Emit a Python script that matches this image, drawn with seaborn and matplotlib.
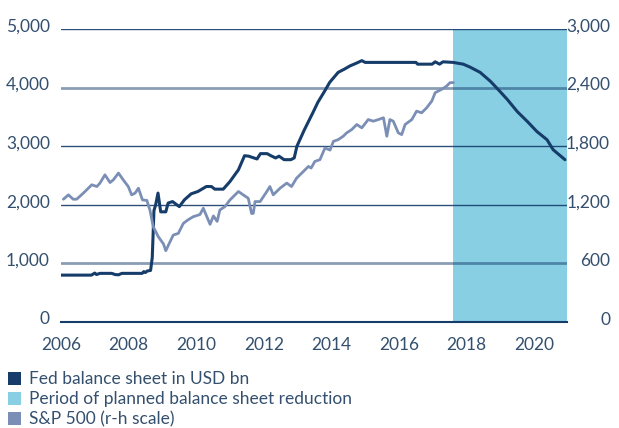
import matplotlib
matplotlib.use("Agg")
import matplotlib.pyplot as plt
import matplotlib.transforms as mtransforms
from matplotlib.patches import Patch
import numpy as np
import pandas as pd
import seaborn as sns

# Fed balance sheet, USD bn (decimal year, value)
fed_year = [2006.0, 2006.5, 2006.9, 2007.0, 2007.05, 2007.15, 2007.5, 2007.6, 2007.7, 2007.8,
            2008.0, 2008.4, 2008.45, 2008.5, 2008.55, 2008.65, 2008.7, 2008.75, 2008.8, 2008.87,
            2008.95, 2009.1, 2009.17, 2009.3, 2009.5, 2009.65, 2009.85, 2010.05, 2010.3, 2010.45,
            2010.55, 2010.8, 2011.0, 2011.25, 2011.43, 2011.55, 2011.8, 2011.9, 2012.1, 2012.2,
            2012.35, 2012.45, 2012.6, 2012.8, 2012.9, 2012.98, 2013.2, 2013.45, 2013.6, 2013.8,
            2013.95, 2014.2, 2014.4, 2014.55, 2014.75, 2014.9, 2015.0, 2015.5, 2016.0, 2016.5,
            2016.55, 2016.98, 2017.07, 2017.2, 2017.3, 2017.6, 2017.9, 2018.1, 2018.4, 2018.7,
            2018.93, 2019.2, 2019.5, 2019.8, 2020.08, 2020.38, 2020.56, 2020.91]
fed_value = [800, 800, 800, 835, 810, 830, 830, 810, 805, 830,
             830, 830, 860, 845, 870, 880, 1100, 1900, 2000, 2200,
             1880, 1880, 2030, 2055, 1969, 2084, 2187, 2227, 2312, 2312,
             2267, 2267, 2398, 2598, 2838, 2830, 2782, 2873, 2873, 2840,
             2799, 2830, 2770, 2770, 2800, 3000, 3280, 3570, 3750, 3940,
             4090, 4260, 4320, 4370, 4420, 4460, 4430, 4430, 4430, 4430,
             4400, 4400, 4440, 4400, 4440, 4430, 4400, 4350, 4260, 4110,
             3970, 3800, 3590, 3420, 3250, 3110, 2940, 2770]

# S&P 500 index level (decimal year, value)
spx_year = [2006.07, 2006.22, 2006.36, 2006.46, 2006.66, 2006.91, 2007.06, 2007.15, 2007.3, 2007.45,
            2007.55, 2007.7, 2007.84, 2007.99, 2008.09, 2008.19, 2008.29, 2008.41, 2008.54, 2008.63,
            2008.73, 2008.88, 2009.03, 2009.1, 2009.32, 2009.47, 2009.62, 2009.75, 2009.91, 2010.11,
            2010.21, 2010.41, 2010.51, 2010.62, 2010.7, 2010.85, 2011.0, 2011.15, 2011.25, 2011.39,
            2011.54, 2011.64, 2011.69, 2011.74, 2011.89, 2012.09, 2012.18, 2012.28, 2012.48, 2012.68,
            2012.82, 2012.97, 2013.17, 2013.32, 2013.4, 2013.51, 2013.66, 2013.81, 2013.96, 2014.06,
            2014.2, 2014.35, 2014.45, 2014.6, 2014.75, 2014.9, 2015.09, 2015.24, 2015.39, 2015.54,
            2015.64, 2015.73, 2015.83, 2015.98, 2016.08, 2016.18, 2016.38, 2016.52, 2016.67, 2016.82,
            2016.97, 2017.07, 2017.26, 2017.41, 2017.51, 2017.61]
spx_value = [1257, 1302, 1257, 1257, 1319, 1405, 1387, 1421, 1507, 1428,
             1456, 1525, 1456, 1387, 1302, 1319, 1370, 1250, 1245, 1147,
             975, 873, 800, 730, 890, 907, 1010, 1044, 1078, 1100,
             1165, 1000, 1086, 1030, 1147, 1182, 1250, 1302, 1336, 1302,
             1267, 1110, 1113, 1233, 1233, 1336, 1387, 1302, 1370, 1422,
             1387, 1473, 1541, 1593, 1576, 1644, 1662, 1782, 1760, 1850,
             1867, 1902, 1936, 1970, 2022, 1988, 2073, 2056, 2073, 2091,
             1902, 2073, 2056, 1936, 1919, 2022, 2073, 2159, 2142, 2194,
             2262, 2348, 2382, 2416, 2451, 2451]

reduction_start = 2017.6
x_end = 2020.97
left_ticks = [0, 1000, 2000, 3000, 4000, 5000]
right_ticks = [0, 600, 1200, 1800, 2400, 3000]
year_ticks = [2006, 2008, 2010, 2012, 2014, 2016, 2018, 2020]
legend_labels = ["Fed balance sheet in USD bn",
                 "Period of planned balance sheet reduction",
                 "S&P 500 (r-h scale)"]

navy = "#163c6a"
spx_col = "#7b8fb6"
shade = "#88cfe4"
text_col = "#34506e"

sns.set_style("white")
plt.rcParams["font.family"] = ["Lato", "DejaVu Sans"]

fed = pd.DataFrame({"year": fed_year, "value": fed_value})
spx = pd.DataFrame({"year": spx_year, "value": spx_value})

fig = plt.figure(figsize=(6.19, 4.28), dpi=100)
ax = fig.add_axes([61 / 619, 1 - 322 / 428, (567 - 61) / 619, (322 - 29) / 428])
ax2 = ax.twinx()

ax.axvspan(reduction_start, x_end, color=shade, zorder=0, lw=0)
sns.lineplot(data=fed, x="year", y="value", ax=ax, color=navy, lw=2.2, zorder=3)
sns.lineplot(data=spx, x="year", y="value", ax=ax2, color=spx_col, lw=2.0, zorder=3)

ax.set_xlim(2006, x_end)
ax.set_ylim(0, 5000)
ax2.set_ylim(0, 3000)
ax.set_xticks(year_ticks)
ax.set_yticks(left_ticks)
ax2.set_yticks(right_ticks)
ax.set_yticklabels([f"{v:,}" for v in left_ticks])
ax2.set_yticklabels([f"{v:,}" for v in right_ticks])
ax.set_xlabel("")
ax.set_ylabel("")
ax2.set_ylabel("")

# horizontal grid lines
for v in left_ticks[1:]:
    if v in (1000, 4000):
        ax.axhline(v, color=navy, alpha=0.5, lw=2.0, zorder=1)
    else:
        ax.axhline(v, color=navy, alpha=0.9, lw=1.0, zorder=1)

for a in (ax, ax2):
    for s in ["top", "left", "right", "bottom"]:
        a.spines[s].set_visible(False)
ax.spines["bottom"].set_visible(True)
ax.spines["bottom"].set_color(navy)
ax.spines["bottom"].set_linewidth(1.5)

fs = 12.5
ax.tick_params(axis="x", direction="out", length=6, width=1.5, color=navy,
               labelsize=fs, labelcolor=text_col, pad=5)
ax.tick_params(axis="y", length=0, labelsize=fs, labelcolor=text_col, pad=8)
ax2.tick_params(axis="y", length=0, labelsize=fs, labelcolor=text_col, pad=31)

up = mtransforms.ScaledTranslation(0, 4 / 100, fig.dpi_scale_trans)
for lab in ax.get_yticklabels():
    lab.set_transform(lab.get_transform() + up)
for lab in ax2.get_yticklabels():
    lab.set_horizontalalignment("right")
    lab.set_transform(lab.get_transform() + up)

handles = [Patch(facecolor=navy, edgecolor="none"),
           Patch(facecolor=shade, edgecolor="none"),
           Patch(facecolor=spx_col, edgecolor="none")]
fig.legend(handles, legend_labels, loc="upper left", bbox_to_anchor=(3 / 619, 1 - 366 / 428),
           frameon=False, fontsize=fs, labelcolor=text_col, handlelength=0.75, handleheight=0.75,
           handletextpad=0.45, labelspacing=0.24, borderaxespad=0, borderpad=0.3)

fig.savefig("out.png", dpi=100)
